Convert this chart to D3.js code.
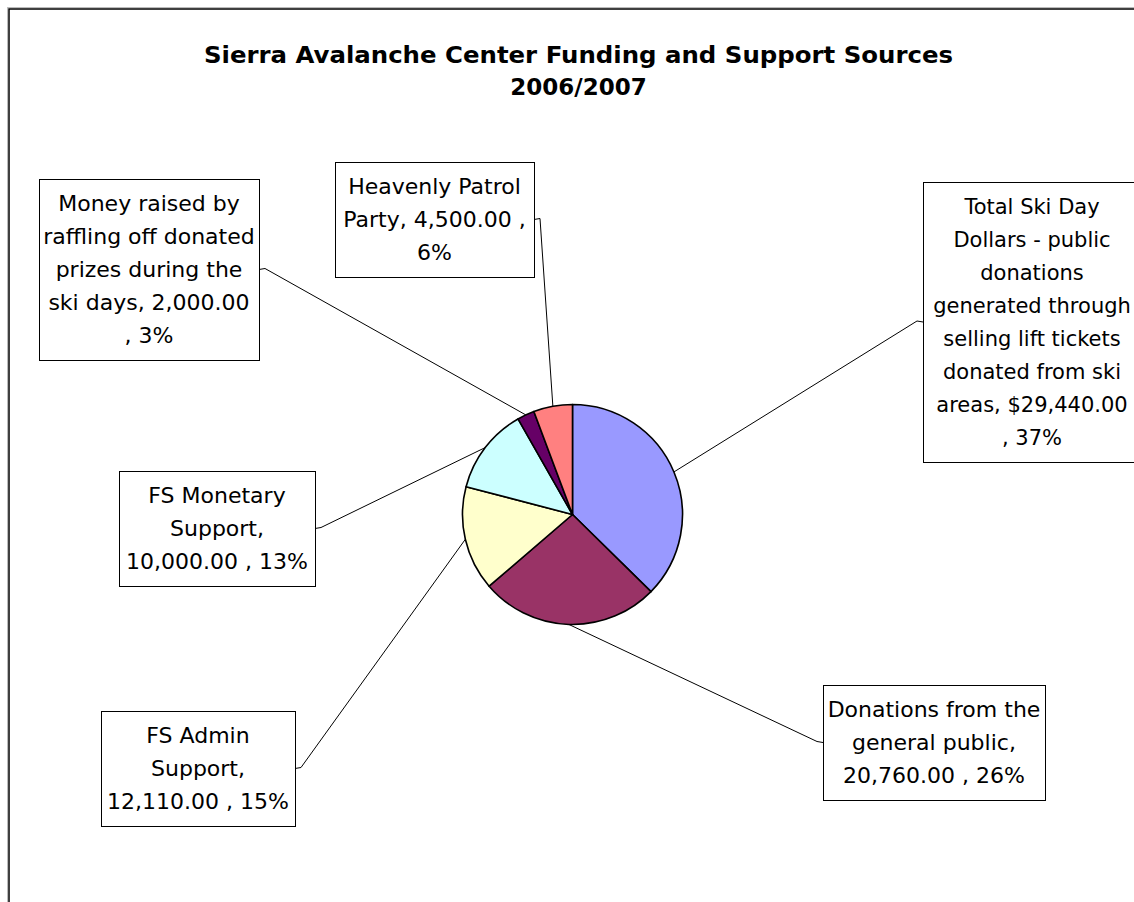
<!DOCTYPE html>
<html>
<head>
<meta charset="utf-8">
<script src="https://cdn.jsdelivr.net/npm/d3@7"></script>
<style>
  html, body { margin: 0; padding: 0; background: #fff; overflow: hidden; }
  svg { display: block; }
</style>
</head>
<body>
<div class="chart"></div>
<script>
// Sierra Avalanche Center funding pie, 2006/2007

const width = 1134
const height = 902

// data
const categories = [
    "Total Ski Day Dollars - public donations generated through selling lift tickets donated from ski areas",
    "Donations from the general public",
    "FS Admin Support",
    "FS Monetary Support",
    "Money raised by raffling off donated prizes during the ski days",
    "Heavenly Patrol Party"
]
const values = [29440, 20760, 12110, 10000, 2000, 4500]
const colors = ["#9999FF", "#993366", "#FFFFCC", "#CCFFFF", "#660066", "#FF8080"]
const titleLines = ["Sierra Avalanche Center Funding and Support Sources", "2006/2007"]

const total = d3.sum(values)
const money = d3.format(",.2f")
const pct = v => Math.round(v / total * 100) + "%"

// label text, broken the way the original wraps it
const labelLines = [
    ["Total Ski Day", "Dollars - public", "donations", "generated through", "selling lift tickets",
     "donated from ski", "areas, $" + money(values[0]), ", " + pct(values[0])],
    ["Donations from the", "general public,", money(values[1]) + " , " + pct(values[1])],
    ["FS Admin", "Support,", money(values[2]) + " , " + pct(values[2])],
    ["FS Monetary", "Support,", money(values[3]) + " , " + pct(values[3])],
    ["Money raised by", "raffling off donated", "prizes during the", "ski days, " + money(values[4]), ", " + pct(values[4])],
    ["Heavenly Patrol", "Party, " + money(values[5]) + " ,", pct(values[5])]
]

// layout of the label boxes [x, y, width, font size]
const boxes = [
    [923, 182, 218, 21],
    [823, 685, 222, 22],
    [101, 711, 194, 22],
    [119, 471, 196, 22],
    [39, 179, 220, 22],
    [335, 162, 199, 22]
]

const cx = 572.5, cy = 514.5, r = 110
const lineH = 33, pad = 8, stub = 6

const svg = d3.select(".chart").append("svg")
    .attr("width", width)
    .attr("height", height)

// outer frame
svg.append("rect")
    .attr("x", 7.5).attr("y", 7.5)
    .attr("width", width).attr("height", height)
    .attr("fill", "none").attr("stroke", "#bbb")
svg.append("rect")
    .attr("x", 9).attr("y", 9)
    .attr("width", width).attr("height", height)
    .attr("fill", "#fff").attr("stroke", "#000").attr("stroke-width", 1.5)

// title
svg.append("text")
    .attr("text-anchor", "middle")
    .style("font", "bold 23px 'DejaVu Sans'")
    .selectAll("tspan")
    .data(titleLines)
    .join("tspan")
    .attr("x", 578.5)
    .attr("y", (d, i) => 55 + i * 32)
    .attr("dominant-baseline", "central")
    .attr("textLength", (d, i) => i === 0 ? 749 : null)
    .attr("lengthAdjust", "spacingAndGlyphs")
    .text(d => d)

const pie = d3.pie().sort(null).startAngle(0).endAngle(2 * Math.PI)
const arcs = pie(values)
const arc = d3.arc().innerRadius(0).outerRadius(r)

const g = svg.append("g").attr("transform", `translate(${cx},${cy})`)
g.selectAll("path")
    .data(arcs)
    .join("path")
    .attr("d", arc)
    .attr("fill", (d, i) => colors[i])
    .attr("stroke", "#000")
    .attr("stroke-width", 1.6)
    .attr("stroke-linejoin", "round")

// leader lines
svg.append("g")
    .selectAll("path")
    .data(arcs)
    .join("path")
    .attr("fill", "none")
    .attr("stroke", "#000")
    .attr("stroke-width", 1)
    .attr("d", (d, i) => {
        const [bx, by, bw] = boxes[i]
        const bh = labelLines[i].length * lineH + 2 * pad
        const a = (d.startAngle + d.endAngle) / 2
        const px = cx + r * Math.sin(a), py = cy - r * Math.cos(a)
        const onRight = bx + bw / 2 > cx
        const ax = onRight ? bx : bx + bw
        const ay = by + bh / 2
        const sx = onRight ? ax - stub : ax + stub
        return `M${ax},${ay}L${sx},${ay - 1}L${px},${py}`
    })

// label boxes
const lab = svg.append("g")
    .selectAll("g")
    .data(labelLines)
    .join("g")
    .attr("transform", (d, i) => `translate(${boxes[i][0]},${boxes[i][1]})`)

lab.append("rect")
    .attr("x", 0.5).attr("y", 0.5)
    .attr("width", (d, i) => boxes[i][2])
    .attr("height", d => d.length * lineH + 2 * pad)
    .attr("fill", "#fff")
    .attr("stroke", "#000")
    .attr("stroke-width", 1)

lab.append("text")
    .attr("text-anchor", "middle")
    .style("font-family", "'DejaVu Sans'")
    .style("font-size", (d, i) => boxes[i][3] + "px")
    .attr("fill", "#000")
    .each(function (d, i) {
        d3.select(this).selectAll("tspan")
            .data(d)
            .join("tspan")
            .attr("x", i === 0 ? 1134 - boxes[i][0] - 102 : boxes[i][2] / 2)
            .attr("y", (t, j) => pad + lineH * (j + 0.5))
            .attr("dominant-baseline", "central")
            .text(t => t)
    })
</script>
</body>
</html>
